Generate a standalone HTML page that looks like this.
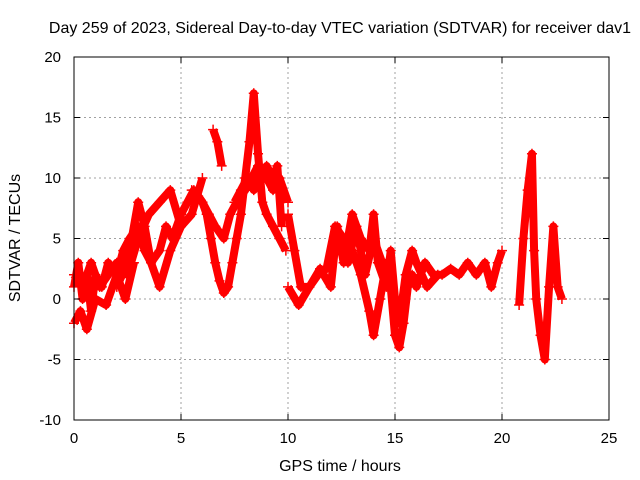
<!DOCTYPE html>
<html><head><meta charset="utf-8"><style>
body{margin:0;background:#fff}
svg{display:block;font-family:"Liberation Sans",sans-serif}
</style></head><body>
<svg id="chart" width="640" height="480" viewBox="0 0 640 480">
<rect width="640" height="480" fill="#fff"/>
<text x="340" y="33" font-size="16" text-anchor="middle">Day 259 of 2023, Sidereal Day-to-day VTEC variation (SDTVAR) for receiver dav1</text>
<g id="grid"></g><g id="marks"></g><g id="axes"></g>
<text x="340" y="471" font-size="16" text-anchor="middle">GPS time / hours</text>
<text transform="translate(20,238) rotate(-90)" font-size="16" text-anchor="middle">SDTVAR / TECUs</text>
</svg>
<script>
const xTicks=[0,5,10,15,20,25];
const yTicks=[-10,-5,0,5,10,15,20];
const traceAx=[0,0.2,0.4,0.6,0.8,1.0,1.3,1.6,2.0,2.3,2.6,3.0,3.3,3.6,4.0,4.3,4.6,5.0,5.3,5.6,6.0,6.3,6.6,7.0,7.3,7.6,8.0,8.3,8.6,9.0,9.3,9.6,10.0];
const traceAy=[1,3,0,2,-1,2,1,3,2,4,5,6,4,3,4,6,5,7,8,9,8,7,6,5,7,8,9,10,11,10,9,10,8];
const traceBx=[5.5,5.8,6.0,6.2,6.4,6.6,6.8,7.0,7.2,7.4,7.6,7.8,8.0,8.2,8.4,8.6,8.8,9.0,9.3,9.6,9.9];
const traceBy=[9,8.5,8,7,5,3,1.5,0.5,1,3,5,7,10,13,17,12,8,7,6,5,4];
const traceCx=[10,10.3,10.6,11,11.4,11.8,12.2,12.6,13,13.4,13.8,14,14.3,14.6,14.8,15,15.2,15.4,15.6,15.8,16,16.4,16.8,17.2,17.6,18,18.4,18.8,19.2,19.5,19.8,20];
const traceCy=[7,4,1,1,2,2.5,6,5,4,2,-1,-3,0,3,1,-3,-4,-2,1,2,1,3,2,2,2.5,2,3,2,3,1,3,4];
const traceDx=[10,10.5,11,11.5,12,12.3,12.6,13,13.4,13.8,14,14.2,14.6,14.8,15,15.2,15.5,15.8,16,16.5,17];
const traceDy=[1,-0.5,1,2.5,1,6,3,7,5,4,7,3,1,4,0,-2,2,4,3,1,2];
const traceEx=[2.0,2.5,3.0,3.3,3.6,4.0,4.5,5.0];
const traceEy=[1,3,8,6,3,1,4,6];
const traceFx=[0,0.3,0.6,1.0,1.5,2.0,2.4,2.8];
const traceFy=[-2,-1,-2.5,0,-0.5,2,0,3];
const traceGx=[6.5,6.7,6.9];
const traceGy=[14,13,11];
const traceHx=[20.8,21,21.2,21.4,21.5,21.6,21.8,22,22.2,22.4,22.6,22.8];
const traceHy=[-0.5,5,9,12,4,0,-3,-5,1,6,1,0];
const traceIx=[0,0.4,0.8,1.2,1.6,2.0,2.5,3.0,3.5,4.0,4.5,5.0,5.5,6.0];
const traceIy=[2,1,3,1,2,3,2,5,7,8,9,6,7,10];
const traceJx=[7.5,7.8,8.1,8.4,8.7,9.0,9.3,9.5,9.7];
const traceJy=[8,9,10,9,10,11,10,11,6];
const traceKx=[12,12.4,12.8,13.2,13.6,14,14.4];
const traceKy=[3,5,3,6,2,5,3];
const traces=[[traceAx,traceAy],[traceBx,traceBy],[traceCx,traceCy],[traceDx,traceDy],[traceEx,traceEy],[traceFx,traceFy],[traceGx,traceGy],[traceHx,traceHy],[traceIx,traceIy],[traceJx,traceJy],[traceKx,traceKy]];
const L=74,R=609,T=57,B=420,xmin=0,xmax=25,ymin=-10,ymax=20;
function sx(v){return L+(v-xmin)/(xmax-xmin)*(R-L);}
function sy(v){return B-(v-ymin)/(ymax-ymin)*(B-T);}
const NS="http://www.w3.org/2000/svg";
function mk(t,a,p){const e=document.createElementNS(NS,t);for(const k in a)e.setAttribute(k,a[k]);p.appendChild(e);return e;}
const grid=document.getElementById('grid'),marks=document.getElementById('marks'),axes=document.getElementById('axes');
xTicks.forEach(v=>{
 if(v>xmin&&v<xmax){const g=mk('line',{x1:sx(v),x2:sx(v),y1:T,y2:B,stroke:'#a0a0a0','stroke-dasharray':'2,3'},grid);
 
 }
 mk('line',{x1:sx(v),x2:sx(v),y1:B,y2:B-6,stroke:'#000'},axes);
 mk('line',{x1:sx(v),x2:sx(v),y1:T,y2:T+6,stroke:'#000'},axes);
 const t=mk('text',{x:sx(v),y:B+23,'font-size':15,'text-anchor':'middle'},axes);t.textContent=v;
 
 
});
yTicks.forEach(v=>{
 if(v>ymin&&v<ymax){const g=mk('line',{x1:L,x2:R,y1:sy(v),y2:sy(v),stroke:'#a0a0a0','stroke-dasharray':'2,3'},grid);
 
 }
 mk('line',{x1:L,x2:L+6,y1:sy(v),y2:sy(v),stroke:'#000'},axes);
 mk('line',{x1:R,x2:R-6,y1:sy(v),y2:sy(v),stroke:'#000'},axes);
 const t=mk('text',{x:L-13,y:sy(v)+5,'font-size':15,'text-anchor':'end'},axes);t.textContent=v;
 
 
});
const fr=mk('rect',{x:L,y:T,width:R-L,height:B-T,fill:'none',stroke:'#000'},axes);


traces.forEach(([xs,ys])=>{
 const pts=xs.map((x,i)=>sx(x)+','+sy(ys[i])).join(' ');
 const pl=mk('polyline',{points:pts,fill:'none',stroke:'#f00','stroke-width':8,'stroke-linejoin':'round'},marks);
 
 
 xs.forEach((x,i)=>{
  const cx=sx(x),cy=sy(ys[i]);
  const p=mk('path',{d:`M${cx-5},${cy}H${cx+5}M${cx},${cy-5}V${cy+5}`,stroke:'#f00','stroke-width':1.5},marks);
  
  
 });
});
</script>
</body></html>
